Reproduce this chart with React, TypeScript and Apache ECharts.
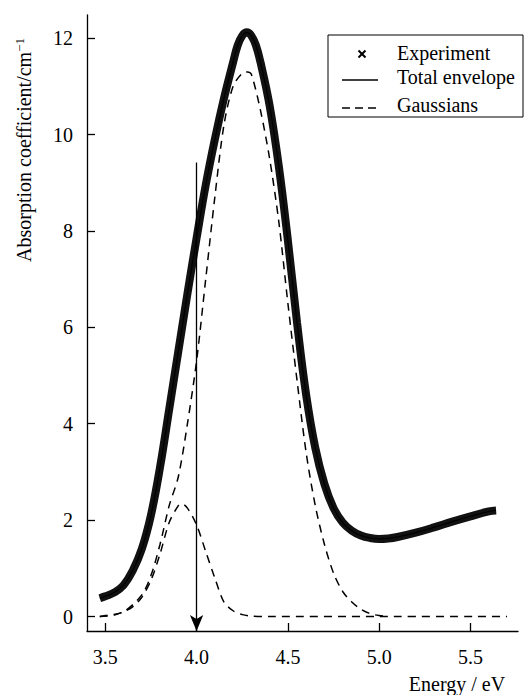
import React, { useEffect, useRef } from "react";
import * as echarts from "echarts";

// Experiment (crosses)
const expEnergy = [3.47, 3.5, 3.55, 3.6, 3.65, 3.7, 3.75, 3.8, 3.85, 3.9, 3.95, 4.0, 4.05, 4.1, 4.15, 4.2, 4.225, 4.25, 4.275, 4.3, 4.325, 4.35, 4.4, 4.45, 4.5, 4.55, 4.6, 4.65, 4.7, 4.75, 4.8, 4.85, 4.9, 4.95, 5.0, 5.05, 5.1, 5.2, 5.3, 5.4, 5.5, 5.6, 5.64];
const expAbs = [0.38, 0.42, 0.5, 0.65, 0.95, 1.4, 2.1, 3.1, 4.3, 5.5, 6.7, 7.85, 8.95, 9.9, 10.75, 11.5, 11.85, 12.05, 12.12, 12.05, 11.85, 11.5, 10.6, 9.35, 7.8, 6.1, 4.6, 3.5, 2.75, 2.25, 1.95, 1.78, 1.68, 1.63, 1.61, 1.62, 1.65, 1.74, 1.85, 1.97, 2.08, 2.18, 2.2];

// Total envelope (hidden under the experimental band)
const envEnergy = [3.47, 3.5, 3.55, 3.6, 3.65, 3.7, 3.75, 3.8, 3.85, 3.9, 3.95, 4.0, 4.05, 4.1, 4.15, 4.2, 4.225, 4.25, 4.275, 4.3, 4.325, 4.35, 4.4, 4.45, 4.5, 4.55, 4.6, 4.65, 4.7, 4.75, 4.8, 4.85, 4.9, 4.95, 5.0, 5.05, 5.1, 5.2, 5.3, 5.4, 5.5, 5.6, 5.64];
const envAbs = [0.38, 0.42, 0.5, 0.65, 0.95, 1.4, 2.1, 3.1, 4.3, 5.5, 6.7, 7.85, 8.95, 9.9, 10.75, 11.5, 11.85, 12.05, 12.12, 12.05, 11.85, 11.5, 10.6, 9.35, 7.8, 6.1, 4.6, 3.5, 2.75, 2.25, 1.95, 1.78, 1.68, 1.63, 1.61, 1.62, 1.65, 1.74, 1.85, 1.97, 2.08, 2.18, 2.2];

// Gaussian 1 (small, ~3.92 eV)
const g1Energy = [3.47, 3.55, 3.6, 3.65, 3.7, 3.75, 3.8, 3.85, 3.9, 3.92, 3.95, 4.0, 4.05, 4.1, 4.15, 4.2, 4.25, 4.3, 4.4, 5.0, 5.7];
const g1Abs = [0, 0.03, 0.1, 0.2, 0.4, 0.75, 1.3, 1.95, 2.3, 2.34, 2.25, 1.9, 1.35, 0.8, 0.3, 0.12, 0.04, 0.01, 0, 0, 0];

// Gaussian 2 (large, ~4.28 eV)
const g2Energy = [3.47, 3.5, 3.6, 3.7, 3.75, 3.8, 3.85, 3.9, 3.95, 4.0, 4.05, 4.1, 4.15, 4.2, 4.25, 4.28, 4.3, 4.35, 4.4, 4.45, 4.5, 4.55, 4.6, 4.65, 4.7, 4.75, 4.8, 4.85, 4.9, 4.95, 5.0, 5.05];
const g2Abs = [0, 0.02, 0.1, 0.45, 0.85, 1.5, 2.3, 2.9, 4.0, 5.3, 7.0, 8.7, 10.2, 11.0, 11.27, 11.3, 11.25, 10.5, 9.5, 8.2, 6.5, 4.9, 3.4, 2.3, 1.5, 0.9, 0.52, 0.3, 0.15, 0.06, 0.02, 0];

// Arrow marking 4.0 eV
const arrowEnergy = 4.0;
const arrowTop = 9.42;
const arrowBottom = -0.3;

const xTicks = [3.5, 4.0, 4.5, 5.0, 5.5];
const yTicks = [0, 2, 4, 6, 8, 10, 12];

const FONT = "Liberation Serif";

const pair = (xs: number[], ys: number[]) => xs.map((x, i) => [x, ys[i]]);

export default function App() {
  const ref = useRef<HTMLDivElement>(null);
  useEffect(() => {
    if (!ref.current) return;
    const chart = echarts.init(ref.current, undefined, { renderer: "svg" });
    const axisCommon = {
      axisLine: { show: true, onZero: false, lineStyle: { color: "#000", width: 1.3 } },
      axisTick: { show: true, inside: true, length: 8, lineStyle: { color: "#000", width: 1.3 } },
      splitLine: { show: false },
    };
    chart.setOption({
      animation: false,
      backgroundColor: "#fff",
      textStyle: { fontFamily: FONT },
      grid: { left: 87, right: 11, top: 15, bottom: 64, containLabel: false },
      xAxis: {
        type: "value",
        min: 3.4,
        max: 5.76,
        ...axisCommon,
        axisTick: { ...axisCommon.axisTick, customValues: xTicks },
        axisLabel: {
          customValues: xTicks,
          margin: 16,
          color: "#000",
          fontFamily: FONT,
          fontSize: 20,
          formatter: (v: number) => v.toFixed(1),
        },
      },
      yAxis: {
        type: "value",
        min: -0.3,
        max: 12.48,
        ...axisCommon,
        axisTick: { ...axisCommon.axisTick, customValues: yTicks },
        axisLabel: {
          customValues: yTicks,
          margin: 14,
          color: "#000",
          fontFamily: FONT,
          fontSize: 20,
          formatter: (v: number) => String(v),
        },
      },
      series: [
        {
          name: "Gaussians",
          type: "line",
          data: pair(g1Energy, g1Abs),
          smooth: 0.3,
          showSymbol: false,
          lineStyle: { color: "#000", width: 1.5, type: [8, 6] },
          z: 2,
          markLine: {
            silent: true,
            symbol: ["none", "arrow"],
            symbolSize: [10, 16],
            label: { show: false },
            lineStyle: { color: "#000", width: 1.3, type: "solid" },
            data: [[{ coord: [arrowEnergy, arrowTop] }, { coord: [arrowEnergy, arrowBottom] }]],
          },
        },
        {
          name: "Gaussians 2",
          type: "line",
          data: pair(g2Energy, g2Abs),
          smooth: 0.3,
          showSymbol: false,
          lineStyle: { color: "#000", width: 1.5, type: [8, 6] },
          z: 2,
        },
        {
          name: "Experiment",
          type: "line",
          data: pair(expEnergy, expAbs),
          smooth: 0.4,
          showSymbol: false,
          lineStyle: { color: "#111", width: 8 },
          z: 3,
        },
        {
          name: "Total envelope",
          type: "line",
          data: pair(envEnergy, envAbs),
          smooth: 0.4,
          showSymbol: false,
          lineStyle: { color: "#000", width: 1.2 },
          z: 4,
        },
      ],
      graphic: [
        {
          type: "text",
          x: 24,
          y: 150,
          rotation: Math.PI / 2,
          style: {
            text: "{a|Absorption coefficient/cm}{s|−1}",
            align: "center",
            verticalAlign: "middle",
            rich: {
              a: { fontFamily: FONT, fontSize: 20, fill: "#000" },
              s: { fontFamily: FONT, fontSize: 13, fill: "#000", padding: [0, 0, 10, 0] },
            },
          },
        },
        {
          type: "text",
          x: 457,
          y: 684,
          style: {
            text: "Energy / eV",
            align: "center",
            verticalAlign: "middle",
            fontFamily: FONT,
            fontSize: 20,
            fill: "#000",
          },
        },
        {
          type: "group",
          children: [
            {
              type: "rect",
              shape: { x: 328, y: 35, width: 195, height: 82 },
              style: { fill: "#fff", stroke: "#000", lineWidth: 1 },
              z: 10,
            },
            {
              type: "line",
              shape: { x1: 358.5, y1: 50.5, x2: 365.5, y2: 57.5 },
              style: { stroke: "#000", lineWidth: 2 },
              z: 11,
            },
            {
              type: "line",
              shape: { x1: 358.5, y1: 57.5, x2: 365.5, y2: 50.5 },
              style: { stroke: "#000", lineWidth: 2 },
              z: 11,
            },
            {
              type: "text",
              x: 397,
              y: 53,
              style: { text: "Experiment", fontFamily: FONT, fontSize: 20, fill: "#000", verticalAlign: "middle" },
              z: 11,
            },
            {
              type: "line",
              shape: { x1: 342, y1: 80, x2: 378, y2: 80 },
              style: { stroke: "#000", lineWidth: 1.3 },
              z: 11,
            },
            {
              type: "text",
              x: 397,
              y: 77,
              style: { text: "Total envelope", fontFamily: FONT, fontSize: 20, fill: "#000", verticalAlign: "middle" },
              z: 11,
            },
            {
              type: "line",
              shape: { x1: 342, y1: 108, x2: 378, y2: 108 },
              style: { stroke: "#000", lineWidth: 1.5, lineDash: [8, 5] },
              z: 11,
            },
            {
              type: "text",
              x: 397,
              y: 105,
              style: { text: "Gaussians", fontFamily: FONT, fontSize: 20, fill: "#000", verticalAlign: "middle" },
              z: 11,
            },
          ],
        },
      ],
    });
    return () => chart.dispose();
  }, []);
  return (
    <div
      ref={ref}
      style={{ position: "fixed", left: 0, top: 0, width: 529, height: 695, background: "#fff" }}
    />
  );
}
